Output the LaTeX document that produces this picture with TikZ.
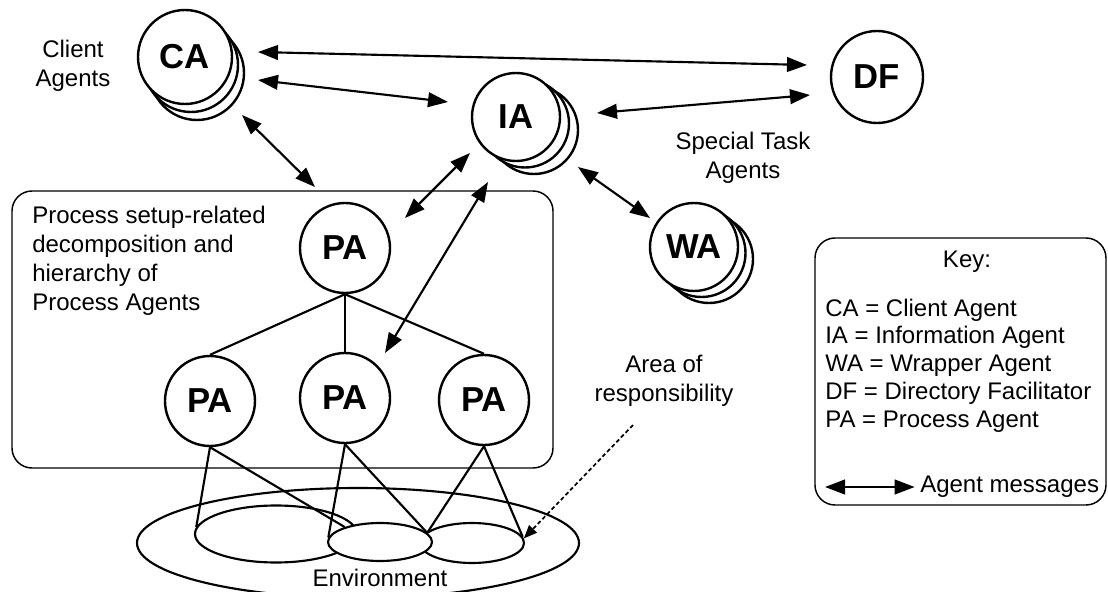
\documentclass[tikz,border=0pt]{standalone}
\usepackage{fontspec}
\setmainfont{Liberation Sans}
\usetikzlibrary{arrows.meta,shapes.geometric}

\begin{document}
\begin{tikzpicture}[x=0.75pt,y=-0.75pt,
  agent/.style={circle,draw,line width=1.8pt,fill=white,inner sep=0pt,
    minimum size=#1,font=\fontsize{26}{30}\selectfont\bfseries},
  agent/.default=67.5pt,
  lbl/.style={font=\fontsize{18}{21.5}\selectfont,inner sep=1pt},
  region/.style={draw,line width=1.1pt,rounded corners=15pt,inner sep=0pt},
  area/.style={ellipse,draw,line width=1.6pt,inner sep=0pt},
  link/.style={line width=1.6pt},
  msg/.style={line width=1.6pt,
    {Triangle[length=15pt,width=11pt]}-{Triangle[length=15pt,width=11pt]}},
  pointer/.style={line width=1.3pt,dash pattern=on 3pt off 2pt,
    -{Triangle[length=10pt,width=8pt]}}
]
\useasboundingbox (0,0) rectangle (1108,592);

% group box for the process agent hierarchy, and the key
\node[region,minimum width=405.75pt,minimum height=207.75pt] (pabox) at (282.5,329.5) {};
\node[region,minimum width=218.25pt,minimum height=200.25pt] (keybox) at (960.5,371.5) {};

% environment and areas of responsibility
\node[area,minimum width=331.5pt,minimum height=82.5pt] (env) at (358,543) {};
\node[area,minimum width=121.5pt,minimum height=42.75pt] (env1) at (276,534) {};
\node[area,minimum width=78pt,minimum height=30pt] (env3) at (472,543) {};
\node[area,fill=white,minimum width=78pt,minimum height=28.5pt] (env2) at (380,542) {};

% process agents
\node[agent] (pa0) at (345,248) {PA};
\node[agent] (pa1) at (210,401) {PA};
\node[agent] (pa2) at (345,398) {PA};
\node[agent] (pa3) at (484,400) {PA};

\draw[link] (pa0.south) -- (pa1.north);
\draw[link] (pa0.south) -- (pa2.north);
\draw[link] (pa0.south) -- (pa3.north);

\draw[link] (pa1.south) -- (env1.175);
\draw[link] (pa1.south) -- (env2.157);
\draw[link] (pa2.south) -- (env2.175);
\draw[link] (pa2.south) -- (env2.11);
\draw[link] (pa3.south) -- (env2.11);
\draw[link] (pa3.south) -- (env3.7);

% client agents (stacked)
\node[agent=70.5pt] (ca3) at (197,73) {};
\node[agent=70.5pt] (ca2) at (191,65) {};
\node[agent=70.5pt] (ca) at (185,57) {CA};

% information agents (stacked)
\node[agent=66pt] (ia3) at (534,130) {};
\node[agent=66pt] (ia2) at (525,123.5) {};
\node[agent=66pt] (ia) at (516,117) {IA};

% wrapper agents (stacked)
\node[agent=66pt] (wa3) at (709,259) {};
\node[agent=66pt] (wa2) at (701.5,253) {};
\node[agent=66pt] (wa) at (694,247) {WA};

% directory facilitator
\node[agent=69pt] (df) at (877,77) {DF};

% message end points
\coordinate (ca-e1) at (258,52);
\coordinate (df-w1) at (807,65);
\coordinate (ca-e2) at (258,80);
\coordinate (ia-w) at (448,102);
\coordinate (ia-e) at (597,113);
\coordinate (df-w2) at (810,95);
\coordinate (ia-se) at (578,167);
\coordinate (wa-nw) at (650,218);
\coordinate (ca-s) at (242,115);
\coordinate (pabox-n) at (315,187);
\coordinate (ia-sw1) at (470,153);
\coordinate (pa0-ne) at (405,218);
\coordinate (ia-sw2) at (488,182);
\coordinate (pa2-ne) at (385,353);

\draw[msg] (ca-e1) -- (df-w1);
\draw[msg] (ca-e2) -- (ia-w);
\draw[msg] (ia-e) -- (df-w2);
\draw[msg] (ia-se) -- (wa-nw);
\draw[msg] (ca-s) -- (pabox-n);
\draw[msg] (ia-sw1) -- (pa0-ne);
\draw[msg] (ia-sw2) -- (pa2-ne);

% labels
\node[lbl,align=center] (calbl) at (73,66) {Client\\Agents};
\node[lbl,align=center] (stalbl) at (743,158) {Special Task\\Agents};
\node[lbl,align=left,anchor=west,inner sep=0pt,font=\fontsize{18}{21.8}\selectfont]
  (palbl) at (32,261) {Process setup-related\\decomposition and\\hierarchy of\\Process Agents};
\node[lbl,align=center] (arealbl) at (664,381) {Area of\\responsibility};
\node[lbl] (envlbl) at (380,578) {Environment};

\coordinate (area-tail) at (633,425);
\draw[pointer] (area-tail) -- (env3.5);

% key contents
\node[lbl] (keytitle) at (967,262) {Key:};
\node[lbl,align=left,anchor=west,inner sep=0pt,font=\fontsize{18}{20.8}\selectfont]
  (keytext) at (825,365.5) {CA = Client Agent\\IA = Information Agent\\WA = Wrapper Agent\\DF = Directory Facilitator\\PA = Process Agent};
\node[lbl,anchor=west,inner sep=0pt] (keymsg) at (920,487) {Agent messages};
\coordinate (keyarrow) at (825,487);
\draw[msg,shorten >=4pt] (keyarrow) -- (keymsg.west);
\end{tikzpicture}
\end{document}
